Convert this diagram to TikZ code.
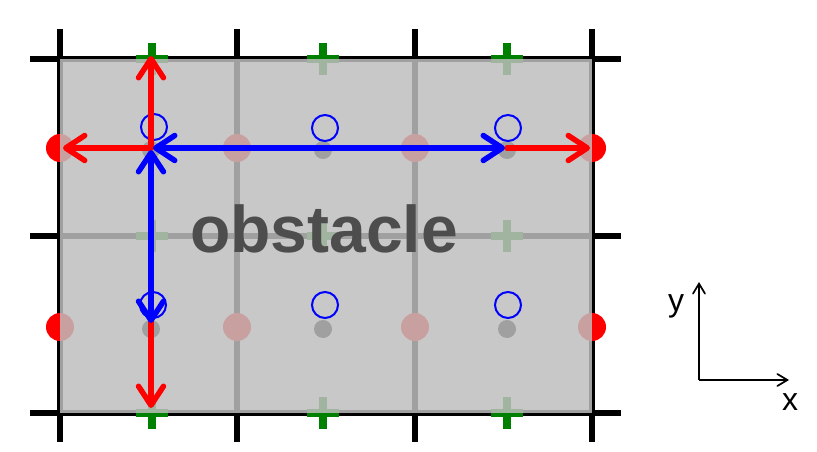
\documentclass[tikz,border=0pt]{standalone}
\usepackage{fontspec}
\setmainfont{Liberation Sans}
\usetikzlibrary{arrows.meta}
\definecolor{obsfill}{RGB}{190,190,190}
\definecolor{obstext}{RGB}{77,77,77}
\definecolor{mkgreen}{RGB}{0,128,0}
\definecolor{mkred}{RGB}{255,0,0}
\definecolor{mkblue}{RGB}{0,0,255}
\tikzset{
  gridline/.style={line width=5.5pt, black},
  reddot/.style={fill=mkred},
  blackdot/.style={fill=black},
  greenplus/.style={fill=mkgreen},
  bluering/.style={draw=mkblue, line width=2pt},
  obstacle/.style={fill=obsfill, fill opacity=0.843},
  bigarrow/.style={line width=5.5pt, line cap=round,
    -{Straight Barb[length=19pt,width=25pt,line cap=round,line join=round]}},
  bigarrowboth/.style={line width=5.5pt, line cap=round,
    {Straight Barb[length=19pt,width=25pt,line cap=round,line join=round]}-{Straight Barb[length=19pt,width=25pt,line cap=round,line join=round]}},
  axisarrow/.style={line width=1.7pt, black,
    -{Straight Barb[length=10pt,width=12pt,line cap=round]}},
  axislabel/.style={font=\fontsize{32}{32}\selectfont, inner sep=0pt, anchor=base}
}
\begin{document}
\begin{tikzpicture}[x=1pt,y=-1pt]
\useasboundingbox (0,0) rectangle (817,452);
% grid lines
\foreach \gx in {60,237,415,592} {
  \draw[gridline] (\gx,29) -- (\gx,442);
}
\foreach \gy in {59,236,413} {
  \draw[gridline] (30,\gy) -- (621,\gy);
}
% red dots on vertical faces
\foreach \dx in {60,237,415,592} {
  \foreach \dy in {148,327} {
    \fill[reddot] (\dx,\dy) circle (14);
  }
}
% green pluses on horizontal faces
\foreach \px in {152,323,507} {
  \foreach \py in {59,236,413} {
    \fill[greenplus] (\px-16,\py-4) rectangle (\px+16,\py+4);
    \fill[greenplus] (\px-4,\py-16) rectangle (\px+4,\py+16);
  }
}
% black dots at cell centres
\foreach \cx in {151,323,507} {
  \foreach \cy in {150,329} {
    \fill[blackdot] (\cx,\cy) circle (9);
  }
}
% obstacle
\fill[obstacle] (60,59) rectangle (592,413);
\node[font=\fontsize{66}{66}\selectfont\bfseries, text=obstext, inner sep=0pt, anchor=base] (obs) at (324,252.7) {obstacle};
% blue rings
\foreach \bx/\by in {154/127,325/128,508/128,153/305,325/305,508/305} {
  \draw[bluering] (\bx,\by) circle (13);
}
% arrow endpoints
\coordinate (c1) at (151,148);
\coordinate (c3) at (507,148);
\coordinate (c4) at (151,321);
\coordinate (top1) at (151,56);
\coordinate (left1) at (63,148);
\coordinate (right3) at (590,148);
\coordinate (bot4) at (151,408);
\coordinate (bh1) at (153,148);
\coordinate (bh3) at (505,148);
\coordinate (bv1) at (151,150);
\coordinate (bv4) at (151,323);
% red arrows
\draw[bigarrow, mkred] (c1) -- (top1);
\draw[bigarrow, mkred] (c1) -- (left1);
\draw[bigarrow, mkred] (c3) -- (right3);
\draw[bigarrow, mkred] (c4) -- (bot4);
% blue arrows
\draw[bigarrowboth, mkblue] (bh1) -- (bh3);
\draw[bigarrowboth, mkblue] (bv1) -- (bv4);
% axes
\coordinate (origin) at (699,380);
\coordinate (yend) at (699,282);
\coordinate (xend) at (789,380);
\draw[axisarrow] (origin) -- (yend);
\draw[axisarrow] (origin) -- (xend);
\node[axislabel] (ylab) at (676,311) {y};
\node[axislabel] (xlab) at (790,410) {x};
\end{tikzpicture}
\end{document}
